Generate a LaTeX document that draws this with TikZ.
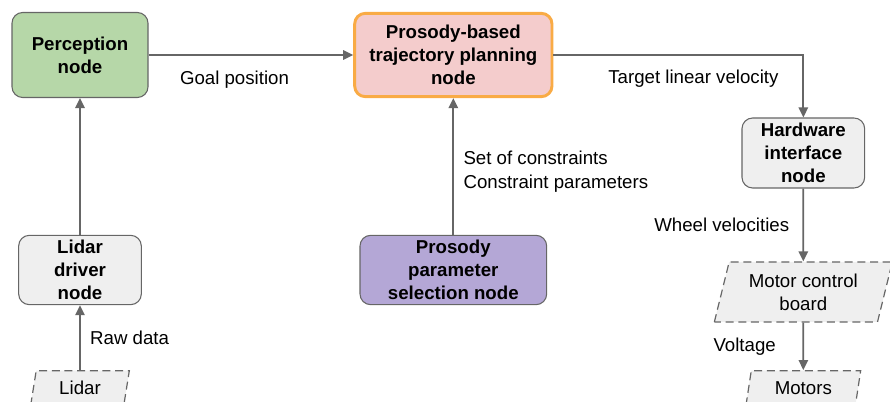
\documentclass[tikz,border=0pt]{standalone}
\usepackage{fontspec}
\setmainfont{Liberation Sans}
\usetikzlibrary{positioning,shapes.geometric,arrows.meta}
\tikzset{>={Triangle[length=7.5pt,width=7pt]}}
\definecolor{percgreen}{HTML}{B6D7A8}
\definecolor{planpink}{HTML}{F4CCCC}
\definecolor{planorange}{HTML}{F9AB45}
\definecolor{selpurple}{HTML}{B4A7D6}
\definecolor{hwgray}{HTML}{EFEFEF}
\definecolor{edgegray}{HTML}{666666}

\begin{document}
\begin{tikzpicture}[x=0.75pt, y=-0.75pt, node distance=1cm, on grid,
    box/.style={draw=edgegray, line width=0.8pt, rounded corners=8pt, align=center, inner sep=0pt,
      font=\fontsize{14}{17.25}\selectfont\bfseries},
    io/.style={trapezium, trapezium left angle=68, trapezium right angle=112, trapezium stretches body,
      draw=edgegray, line width=0.9pt, dash pattern=on 6pt off 3.5pt, fill=hwgray, align=center,
      inner sep=0pt, font=\fontsize{14}{17.25}\selectfont},
    lbl/.style={inner sep=0pt, align=left, font=\fontsize{14}{18}\selectfont},
    conn/.style={->, draw=edgegray, line width=1.3pt}]
  \useasboundingbox (0,0) rectangle (890,402);
  \node[box, fill=percgreen, minimum width=102pt, minimum height=63.75pt] (perc) at (80,55) {Perception\\node};
  \node[box, fill=planpink, draw=planorange, line width=2.2pt, minimum width=148pt, minimum height=62.5pt] (plan) [right=280pt of perc] {Prosody-based\\trajectory planning\\node};
  \node[box, fill=hwgray, minimum width=92pt, minimum height=52.5pt] (hw) [below right=73.5pt and 262.5pt of plan] {Hardware\\interface\\node};
  \node[box, fill=selpurple, minimum width=140pt, minimum height=52pt] (sel) [below=161.25pt of plan] {Prosody\\parameter\\selection node};
  \node[box, fill=hwgray, minimum width=92pt, minimum height=52pt] (lidrv) [below=161.25pt of perc] {Lidar\\driver\\node};
  \node[io, minimum width=133.5pt, minimum height=45pt] (board) [below=104.25pt of hw] {Motor control\\board};
  \node[io, minimum width=86pt, minimum height=26pt] (motors) [below=72pt of board] {Motors};
  \node[io, minimum width=74pt, minimum height=26pt] (lidar) [below=88.5pt of lidrv] {Lidar};

  \draw[conn] (perc) -- node[lbl, below=11pt, pos=0.42] {Goal position} (plan);
  \draw[conn] (plan.east) -| node[lbl, below=10.5pt, pos=0.28] {Target linear velocity} (hw.north);
  \draw[conn] (sel) -- node[lbl, right=7pt, anchor=west, pos=0.46] {Set of constraints\\Constraint parameters} (plan);
  \draw[conn] (lidrv) -- (perc);
  \draw[conn] (lidar) -- node[lbl, right=7pt, anchor=west] {Raw data} (lidrv);
  \draw[conn] (hw) -- node[lbl, left=10pt, anchor=east] {Wheel velocities} (board);
  \draw[conn] (board) -- node[lbl, left=20pt, anchor=east] {Voltage} (motors);
\end{tikzpicture}
\end{document}
